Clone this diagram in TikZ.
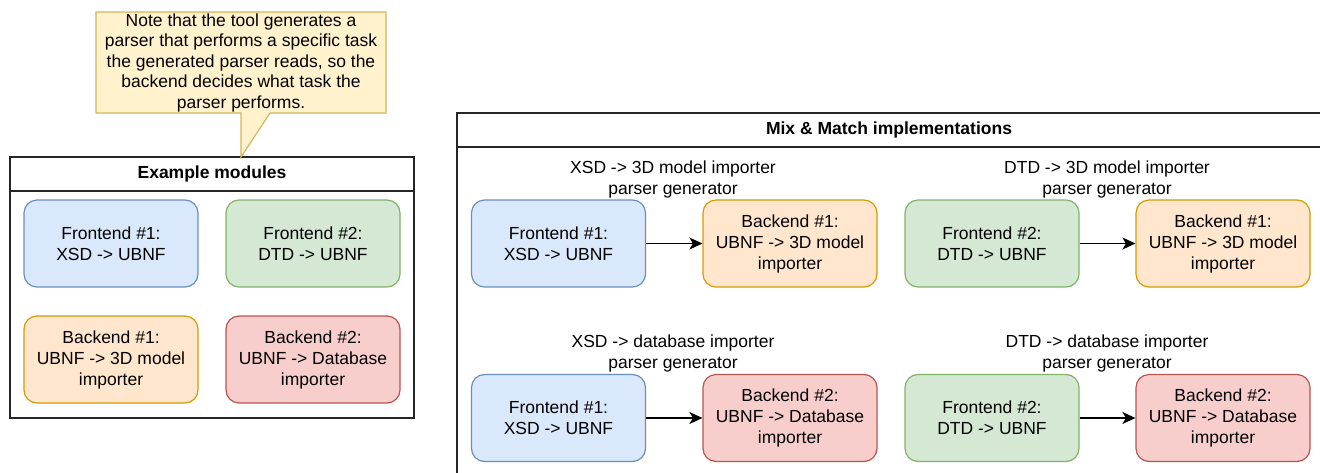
\documentclass[tikz,border=0pt]{standalone}
\usepackage{fontspec}
\setmainfont{Liberation Sans}
\usetikzlibrary{arrows.meta}
\definecolor{bfill}{HTML}{DAE8FC}\definecolor{bdraw}{HTML}{6C8EBF}
\definecolor{gfill}{HTML}{D5E8D4}\definecolor{gdraw}{HTML}{82B366}
\definecolor{ofill}{HTML}{FFE6CC}\definecolor{odraw}{HTML}{D79B00}
\definecolor{rfill}{HTML}{F8CECC}\definecolor{rdraw}{HTML}{B85450}
\definecolor{yfill}{HTML}{FFF2CC}\definecolor{ydraw}{HTML}{D6B656}
\tikzset{
  mod/.style={rounded corners=13pt, minimum width=174pt, minimum height=87pt, line width=1.2pt,
    align=center, inner sep=0pt, font=\fontsize{17.5}{21}\selectfont},
  fe1/.style={mod, fill=bfill, draw=bdraw},
  fe2/.style={mod, fill=gfill, draw=gdraw},
  be1/.style={mod, fill=ofill, draw=odraw},
  be2/.style={mod, fill=rfill, draw=rdraw},
  panel/.style={draw=black!85, line width=1.4pt},
  ttl/.style={font=\fontsize{17.5}{21}\selectfont\bfseries, inner sep=0pt},
  lbl/.style={align=center, inner sep=0pt, font=\fontsize{17.5}{21}\selectfont},
  callout/.style={fill=yfill, draw=ydraw, line width=1.2pt},
  arr/.style={-{Stealth[length=13pt,width=12pt,inset=3.5pt]}, line width=1.4pt, black}
}
\begin{document}
\begin{tikzpicture}[x=1pt,y=-1pt]
\clip (0,0) rectangle (1320,472);
\fill[white] (0,0) rectangle (1320,472);
% left panel
\draw[panel] (10,157) rectangle (414,418);
\draw[panel] (10,191) -- (414,191);
\node[ttl] (lt) at (212,174) {Example modules};
\node[fe1] (lf1) at (111,243.5) {Frontend \#1:\\XSD -> UBNF};
\node[fe2] (lf2) at (313,243.5) {Frontend \#2:\\DTD -> UBNF};
\node[be1] (lb1) at (111,359.5) {Backend \#1:\\UBNF -> 3D model\\importer};
\node[be2] (lb2) at (313,359.5) {Backend \#2:\\UBNF -> Database\\importer};
% callout
\coordinate (tip) at (241,157);
\coordinate (nw) at (96,12);
\coordinate (se) at (386,113);
\draw[callout] (nw) -- (se |- nw) -- (se) -- (270,113) -- (tip) -- (241,113) -- (nw |- se) -- cycle;
\node[lbl, font=\fontsize{17.5}{20.5}\selectfont] (note) at (241,62.5)
  {Note that the tool generates a\\parser that performs a specific task\\the generated parser reads, so the\\backend decides what task the\\parser performs.};
% right panel
\draw[panel] (457,490) -- (457,113) -- (1321,113) -- (1321,490);
\draw[panel] (457,147) -- (1321,147);
\node[ttl] (rt) at (889,130) {Mix \& Match implementations};
% group 1
\node[lbl] (g1) at (673,179) {XSD -> 3D model importer\\parser generator};
\node[fe1] (a1) at (558.5,243.5) {Frontend \#1:\\XSD -> UBNF};
\node[be1] (b1) at (790,243.5) {Backend \#1:\\UBNF -> 3D model\\importer};
\draw[arr] (a1) -- (b1);
% group 2
\node[lbl] (g2) at (1107,179) {DTD -> 3D model importer\\parser generator};
\node[fe2] (a2) at (992,243.5) {Frontend \#2:\\DTD -> UBNF};
\node[be1] (b2) at (1223,243.5) {Backend \#1:\\UBNF -> 3D model\\importer};
\draw[arr] (a2) -- (b2);
% group 3
\node[lbl] (g3) at (673,353) {XSD -> database importer\\parser generator};
\node[fe1] (a3) at (558.5,418) {Frontend \#1:\\XSD -> UBNF};
\node[be2] (b3) at (790,418) {Backend \#2:\\UBNF -> Database\\importer};
\draw[arr] (a3) -- (b3);
% group 4
\node[lbl] (g4) at (1107,353) {DTD -> database importer\\parser generator};
\node[fe2] (a4) at (992,418) {Frontend \#2:\\DTD -> UBNF};
\node[be2] (b4) at (1223,418) {Backend \#2:\\UBNF -> Database\\importer};
\draw[arr] (a4) -- (b4);
\end{tikzpicture}
\end{document}
